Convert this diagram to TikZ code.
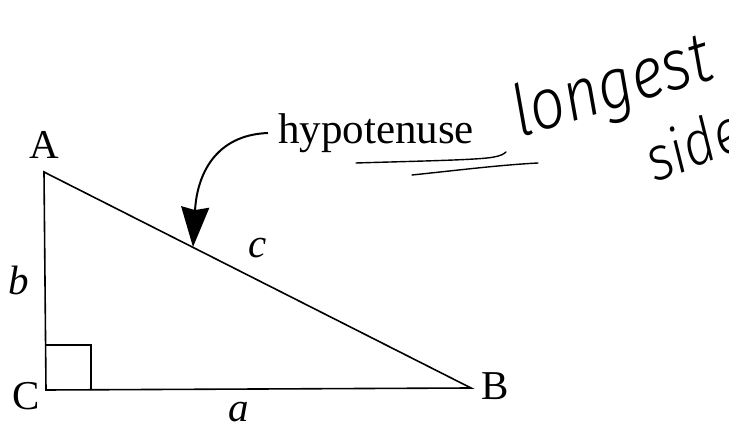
\documentclass[tikz,border=0pt]{standalone}
\usepackage{fontspec}
\setmainfont{Liberation Serif}
\newfontfamily\hand{Fira Sans Light Italic}
\usetikzlibrary{arrows.meta,calc}
\begin{document}
\begin{tikzpicture}[x=1pt,y=-1pt,
  side/.style={line width=1.6pt,line join=miter},
  lbl/.style={font=\fontsize{41}{41}\selectfont,inner sep=0pt,anchor=base},
  ilbl/.style={font=\fontsize{41}{41}\selectfont\itshape,inner sep=0pt,anchor=base},
  pointer/.style={line width=2pt,-{Stealth[length=40pt,width=28pt,inset=3pt]}},
  penline/.style={line width=1.4pt,line cap=round},
  handtext/.style={font=\hand,inner sep=0pt,anchor=base west}]
\useasboundingbox (0,0) rectangle (729,427);
% vertices
\coordinate (A) at (44,172);
\coordinate (C) at (46,390);
\coordinate (B) at (471,388);
\coordinate (tip) at (193,247);
% triangle
\draw[side] (A) -- (C) -- (B) -- cycle;
\draw[line width=1.4pt] ($(C)+(0,-45)$) -| ($(C)+(45,0)$);
% vertex and side labels
\node[lbl] (nA) at (44,159) {A};
\node[lbl] (nB) at (495,400) {B};
\node[lbl] (nC) at (26,410) {C};
\node[ilbl] (nb) at (19,295) {b};
\node[ilbl] (na) at (239,422) {a};
\node[ilbl] (nc) at (258,258) {c};
% hypotenuse pointer
\node[font=\fontsize{43}{43}\selectfont,inner xsep=10pt,inner ysep=0pt,anchor=west] (hyp) at (268,133) {hypotenuse};
\draw[pointer] (hyp.west) .. controls (215,135) and (197,175) .. (tip);
% handwritten notes
\coordinate (u1a) at (356,163);
\coordinate (u1b) at (506,152);
\coordinate (u2a) at (412,175);
\coordinate (u2b) at (538,163);
\draw[penline] (u1a) .. controls (420,161) and (480,160) .. (494,157) .. controls (500,156) and (504,154) .. (u1b);
\draw[penline] (u2a) .. controls (460,170) and (500,165) .. (u2b);
\node[handtext,font=\hand\fontsize{62}{62}\selectfont,rotate=17,yscale=1.15] (longest) at (520,138) {longest};
\node[handtext,font=\hand\fontsize{54}{54}\selectfont,rotate=21,yscale=1.15] (sidenote) at (655,183) {side};
\end{tikzpicture}
\end{document}
